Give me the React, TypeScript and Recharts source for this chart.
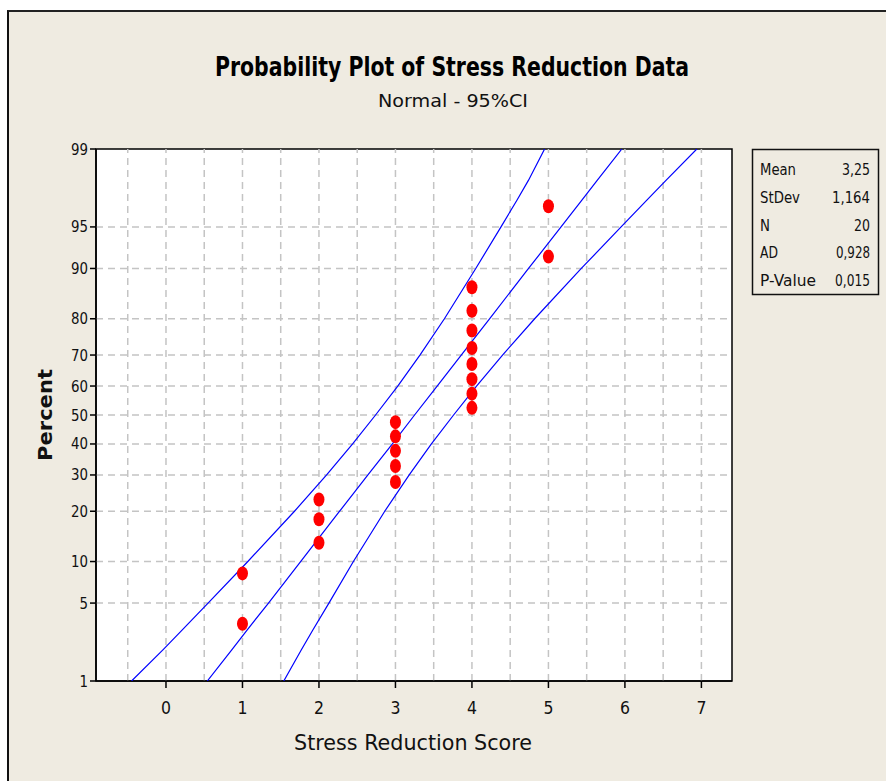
import React from "react";
import {
  ComposedChart,
  Scatter,
  XAxis,
  YAxis,
  CartesianGrid,
  ReferenceLine,
  ReferenceArea,
} from "recharts";

// ---------- data ----------
const PERCENT_TICKS = [1, 5, 10, 20, 30, 40, 50, 60, 70, 80, 90, 95, 99];
const X_TICKS = [0, 1, 2, 3, 4, 5, 6, 7];
const X_GRID = [-0.5, 0, 0.5, 1, 1.5, 2, 2.5, 3, 3.5, 4, 4.5, 5, 5.5, 6, 6.5, 7];

const scores = [1, 1, 2, 2, 2, 3, 3, 3, 3, 3, 4, 4, 4, 4, 4, 4, 4, 4, 5, 5];
const percents = [
  3.4, 8.3, 13.2, 18.1, 23.0, 27.9, 32.8, 37.7, 42.6, 47.5, 52.5, 57.4, 62.3,
  67.2, 72.1, 77.0, 81.9, 86.8, 91.7, 96.6,
];

const bandPercents = [1, 2, 3, 5, 10, 20, 30, 40, 50, 60, 70, 80, 90, 95, 97, 98, 99];
const fitScore = [0.54, 0.86, 1.06, 1.34, 1.76, 2.27, 2.64, 2.96, 3.25, 3.545, 3.86, 4.23, 4.74, 5.165, 5.44, 5.64, 5.96];
const lowerScore = [-0.45, -0.04, 0.21, 0.55, 1.07, 1.68, 2.1, 2.44, 2.74, 3.03, 3.32, 3.64, 4.05, 4.38, 4.59, 4.74, 4.95];
const upperScore = [1.54, 1.77, 1.92, 2.13, 2.45, 2.86, 3.18, 3.47, 3.76, 4.06, 4.4, 4.82, 5.43, 5.95, 6.29, 6.54, 6.94];

const statLabels = ["Mean", "StDev", "N", "AD", "P-Value"];
const statValues = ["3,25", "1,164", "20", "0,928", "0,015"];

// ---------- normal probability scale (percent -> z) ----------
function probit(pct: number): number {
  const p = pct / 100;
  const a = [-39.69683028665376, 220.9460984245205, -275.9285104469687, 138.357751867269, -30.66479806614716, 2.506628277459239];
  const b = [-54.47609879822406, 161.5858368580409, -155.6989798598866, 66.80131188771972, -13.28068155288572];
  const c = [-0.007784894002430293, -0.3223964580411365, -2.400758277161838, -2.549732539343734, 4.374664141464968, 2.938163982698783];
  const d = [0.007784695709041462, 0.3224671290700398, 2.445134137142996, 3.754408661907416];
  const pl = 0.02425;
  if (p < pl) {
    const q = Math.sqrt(-2 * Math.log(p));
    return (((((c[0] * q + c[1]) * q + c[2]) * q + c[3]) * q + c[4]) * q + c[5]) /
      ((((d[0] * q + d[1]) * q + d[2]) * q + d[3]) * q + 1);
  }
  if (p > 1 - pl) {
    const q = Math.sqrt(-2 * Math.log(1 - p));
    return -(((((c[0] * q + c[1]) * q + c[2]) * q + c[3]) * q + c[4]) * q + c[5]) /
      ((((d[0] * q + d[1]) * q + d[2]) * q + d[3]) * q + 1);
  }
  const q = p - 0.5;
  const r = q * q;
  return ((((((a[0] * r + a[1]) * r + a[2]) * r + a[3]) * r + a[4]) * r + a[5]) * q) /
    (((((b[0] * r + b[1]) * r + b[2]) * r + b[3]) * r + b[4]) * r + 1);
}

const yTicks = PERCENT_TICKS.map(probit);
const yMin = probit(1);
const yMax = probit(99);

const pointData = scores.map((s, i) => ({ x: s, z: probit(percents[i]) }));
const fitData = bandPercents.map((p, i) => ({ x: fitScore[i], z: probit(p) }));
const lowerData = bandPercents.map((p, i) => ({ x: lowerScore[i], z: probit(p) }));
const upperData = bandPercents.map((p, i) => ({ x: upperScore[i], z: probit(p) }));

const FONT = "'DejaVu Sans', 'Liberation Sans', Arial, sans-serif";
const BG = "#EFEBE1";

const Dot = (props: any) => {
  const { cx, cy } = props;
  if (cx == null || cy == null) return <g />;
  return <ellipse cx={cx} cy={cy} rx={5.5} ry={7} fill="#FF0000" />;
};
const NoDot = () => <g />;

const yTickFmt = (v: number) => {
  const i = yTicks.findIndex((t) => Math.abs(t - v) < 1e-6);
  return i >= 0 ? String(PERCENT_TICKS[i]) : "";
};

const YTick = (props: any) => {
  const { x, y, payload } = props;
  const label = yTickFmt(payload.value);
  return (
    <text x={x} y={y} dy={5.5} textAnchor="end" fontSize={15} fill="#111" fontFamily={FONT}
      textLength={label.length * 8.5} lengthAdjust="spacingAndGlyphs">
      {label}
    </text>
  );
};

const XTick = (props: any) => {
  const { x, y, payload } = props;
  const label = String(payload.value);
  return (
    <text x={x} y={y} dy={20} textAnchor="middle" fontSize={18} fill="#111" fontFamily={FONT}
      textLength={label.length * 10} lengthAdjust="spacingAndGlyphs">
      {label}
    </text>
  );
};

const statLabelW = [36, 40, 10, 18, 56];
const statValueW = [28, 38, 16, 34, 35];

export default function App() {
  return (
    <div style={{ position: "absolute", left: 0, top: 0, width: 886, height: 781, background: "#fff", overflow: "hidden" }}>
      <div
        style={{
          position: "absolute",
          left: 7,
          top: 10,
          width: 886 - 7,
          height: 781 - 10,
          background: BG,
          borderLeft: "2px solid #111",
          borderTop: "2px solid #222",
          boxSizing: "border-box",
        }}
      />
      <div style={{ position: "absolute", left: 0, top: 0 }}>
        <ComposedChart
          width={886}
          height={781}
          margin={{ top: 149, right: 154, bottom: 50, left: 36 }}
          style={{ fontFamily: FONT }}
        >
          <CartesianGrid fill="#ffffff" horizontal={false} vertical={false} />
          <XAxis
            type="number"
            dataKey="x"
            domain={[-0.915, 7.4]}
            ticks={X_TICKS}
            allowDataOverflow
            height={50}
            axisLine={{ stroke: "#000", strokeWidth: 1.5 }}
            tickLine={{ stroke: "#000", strokeWidth: 1.5 }}
            tickSize={7}
            tick={<XTick />}
            tickMargin={6}
          />
          <YAxis
            type="number"
            dataKey="z"
            domain={[yMin, yMax]}
            ticks={yTicks}
            allowDataOverflow
            width={60}
            interval={0}
            axisLine={{ stroke: "#000", strokeWidth: 1.5 }}
            tickLine={{ stroke: "#000", strokeWidth: 1.5 }}
            tickSize={6}
            tick={<YTick />}
            tickMargin={2}
          />
          {X_GRID.map((g) => (
            <ReferenceLine key={"vx" + g} x={g} stroke="#C4C4C4" strokeWidth={1.5} strokeDasharray="7 5" />
          ))}
          {yTicks.slice(1, -1).map((g, i) => (
            <ReferenceLine key={"hy" + i} y={g} stroke="#C4C4C4" strokeWidth={1.5} strokeDasharray="7 5" />
          ))}
          <Scatter data={lowerData} line={{ stroke: "#0000FF", strokeWidth: 1.2 }} shape={NoDot} isAnimationActive={false} />
          <Scatter data={fitData} line={{ stroke: "#0000FF", strokeWidth: 1.2 }} shape={NoDot} isAnimationActive={false} />
          <Scatter data={upperData} line={{ stroke: "#0000FF", strokeWidth: 1.2 }} shape={NoDot} isAnimationActive={false} />
          <Scatter data={pointData} shape={Dot} isAnimationActive={false} />
          <ReferenceArea x1={-0.915} x2={7.4} y1={yMin} y2={yMax} fill="none" stroke="#000" strokeWidth={1.5} ifOverflow="visible" />
        </ComposedChart>
      </div>
      <svg width={886} height={781} style={{ position: "absolute", left: 0, top: 0, pointerEvents: "none", fontFamily: FONT }}>
        <text x={452} y={76} textAnchor="middle" fontSize={26} fontWeight="bold" fill="#000" textLength={474} lengthAdjust="spacingAndGlyphs">
          Probability Plot of Stress Reduction Data
        </text>
        <text x={453} y={107} textAnchor="middle" fontSize={17} fill="#111" textLength={150} lengthAdjust="spacingAndGlyphs">
          Normal - 95%CI
        </text>
        <text x={413} y={750} textAnchor="middle" fontSize={21} fill="#111" textLength={238} lengthAdjust="spacingAndGlyphs">
          Stress Reduction Score
        </text>
        <text
          x={0}
          y={0}
          transform="translate(52,415) rotate(-90)"
          textAnchor="middle"
          fontSize={20}
          fontWeight="bold"
          fill="#111"
          textLength={92}
          lengthAdjust="spacingAndGlyphs"
        >
          Percent
        </text>
        <rect x={752.5} y={149.5} width={126} height={145} fill="none" stroke="#111" strokeWidth={1.5} />
        {statLabels.map((l, i) => (
          <text key={l} x={760} y={175 + i * 27.8} fontSize={15} fill="#111" textLength={statLabelW[i]} lengthAdjust="spacingAndGlyphs">
            {l}
          </text>
        ))}
        {statValues.map((v, i) => (
          <text key={"v" + i} x={870} y={175 + i * 27.8} fontSize={15} fill="#111" textAnchor="end" textLength={statValueW[i]} lengthAdjust="spacingAndGlyphs">
            {v}
          </text>
        ))}
      </svg>
    </div>
  );
}
